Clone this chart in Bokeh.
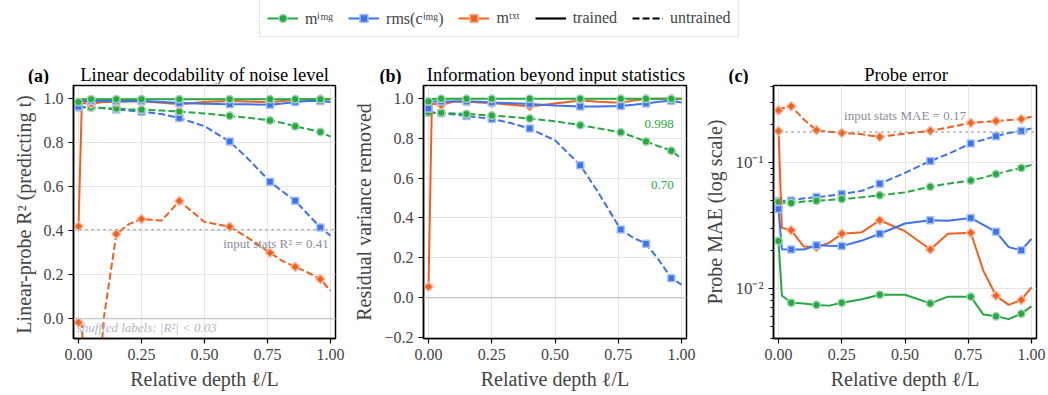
import math
from bokeh.plotting import figure
from bokeh.layouts import column, row
from bokeh.models import (Range1d, FixedTicker, CustomJSTickFormatter, Span, Label,
                          Legend, LegendItem, NumeralTickFormatter)
from bokeh.embed import file_html
from bokeh.resources import INLINE

# ---------------- data ----------------
depth = [0.0, 0.013, 0.05, 0.1, 0.15, 0.2, 0.25, 0.33, 0.4, 0.5, 0.6, 0.67, 0.76, 0.81, 0.86, 0.91, 0.96, 1.0]

# (a) linear-probe R^2
a_img_tr = [0.985, 0.997, 0.998, 0.998, 0.998, 0.998, 0.998, 0.998, 0.998, 0.998, 0.998, 0.998, 0.998, 0.998, 0.998, 0.998, 0.998, 0.998]
a_rms_tr = [0.963, 0.99, 0.99, 0.99, 0.99, 0.99, 0.99, 0.985, 0.98, 0.977, 0.975, 0.975, 0.972, 0.978, 0.985, 0.99, 0.99, 0.985]
a_txt_tr = [0.42, 0.98, 0.977, 0.985, 0.985, 0.987, 0.988, 0.982, 0.975, 0.985, 0.99, 0.987, 0.984, 0.99, 0.995, 0.997, 0.998, 0.998]
a_img_un = [0.96, 0.96, 0.96, 0.958, 0.955, 0.952, 0.95, 0.946, 0.942, 0.933, 0.922, 0.914, 0.901, 0.89, 0.875, 0.862, 0.849, 0.828]
a_rms_un = [0.962, 0.962, 0.962, 0.956, 0.951, 0.946, 0.941, 0.93, 0.912, 0.875, 0.805, 0.73, 0.623, 0.578, 0.536, 0.475, 0.415, 0.377]
a_txt_un = [-0.017, -0.03, -0.8, 0.0, 0.385, 0.43, 0.453, 0.446, 0.535, 0.44, 0.418, 0.37, 0.30, 0.262, 0.236, 0.21, 0.18, 0.127]

# (b) residual variance removed
b_img_tr = [0.985, 0.997, 0.998, 0.998, 0.998, 0.998, 0.998, 0.998, 0.998, 0.998, 0.998, 0.998, 0.998, 0.998, 0.998, 0.998, 0.998, 0.998]
b_rms_tr = [0.95, 0.985, 0.985, 0.985, 0.985, 0.983, 0.98, 0.976, 0.972, 0.965, 0.96, 0.96, 0.962, 0.968, 0.975, 0.983, 0.988, 0.98]
b_txt_tr = [0.055, 0.975, 0.967, 0.985, 0.985, 0.98, 0.977, 0.968, 0.96, 0.975, 0.99, 0.983, 0.978, 0.99, 0.998, 0.998, 0.998, 0.998]
b_img_un = [0.929, 0.929, 0.928, 0.925, 0.922, 0.918, 0.914, 0.907, 0.899, 0.885, 0.866, 0.85, 0.83, 0.808, 0.784, 0.76, 0.738, 0.698]
b_rms_un = [0.928, 0.928, 0.926, 0.92, 0.912, 0.905, 0.897, 0.875, 0.849, 0.79, 0.665, 0.53, 0.342, 0.30, 0.271, 0.19, 0.098, 0.065]

# (c) probe MAE
c_img_tr = [0.0238, 0.0088, 0.0077, 0.0076, 0.0074, 0.0073, 0.0077, 0.0082, 0.0089, 0.0089, 0.0076, 0.0086, 0.0086, 0.0062, 0.0060, 0.0057, 0.0063, 0.0072]
c_rms_tr = [0.0428, 0.0205, 0.0204, 0.0204, 0.022, 0.0218, 0.0217, 0.024, 0.0272, 0.0328, 0.0348, 0.0345, 0.0363, 0.032, 0.0282, 0.0213, 0.0201, 0.0248]
c_txt_tr = [0.178, 0.0303, 0.029, 0.0215, 0.0213, 0.023, 0.0272, 0.028, 0.0348, 0.0285, 0.0204, 0.0272, 0.0277, 0.0138, 0.00875, 0.0074, 0.0081, 0.0102]
c_img_un = [0.0486, 0.048, 0.0478, 0.049, 0.0498, 0.0505, 0.0513, 0.053, 0.0549, 0.058, 0.0643, 0.068, 0.0721, 0.076, 0.081, 0.086, 0.0908, 0.096]
c_rms_un = [0.0492, 0.0495, 0.050, 0.052, 0.0532, 0.0545, 0.0562, 0.0597, 0.0679, 0.083, 0.103, 0.117, 0.142, 0.152, 0.162, 0.172, 0.178, 0.187]
c_txt_un = [0.26, 0.27, 0.28, 0.22, 0.181, 0.176, 0.172, 0.168, 0.160, 0.17, 0.179, 0.19, 0.207, 0.21, 0.214, 0.218, 0.222, 0.231]

x_ticks = [0.0, 0.25, 0.5, 0.75, 1.0]
input_stats_r2 = 0.405
input_stats_mae = 0.175

titles = ["Linear decodability of noise level", "Information beyond input statistics", "Probe error"]
tags = ["(a)", "(b)", "(c)"]

# ---------------- style ----------------
FONT = "Liberation Serif"
GREEN, BLUE, ORANGE = "#27a844", "#3d73eb", "#f0601e"
GREY_TXT = "#8a8c99"


def tint(hexc, f=0.55):
    r, g, b = int(hexc[1:3], 16), int(hexc[3:5], 16), int(hexc[5:7], 16)
    r, g, b = [int(c + (255 - c) * f) for c in (r, g, b)]
    return "#%02x%02x%02x" % (r, g, b)


# marker, size, angle
SER = {"img": (GREEN, "circle", 7.5, 0.0), "rms": (BLUE, "square", 7, 0.0),
       "txt": (ORANGE, "square", 6.5, math.pi / 4)}


def draw(p, ys, key, dashed):
    col, mk, sz, ang = SER[key]
    kw = dict(line_dash="7 3") if dashed else {}
    p.line(depth, ys, line_color=col, line_width=2, **kw)
    p.scatter(depth[::2], ys[::2], marker=mk, size=sz, angle=ang, fill_color=col,
              line_color=tint(col), line_width=1.5)


def panel(ylabel, yr, width, left, right, log=False):
    p = figure(width=width, height=311, x_range=Range1d(-0.02, 1.02), y_range=yr,
               y_axis_type="log" if log else "linear", title=None,
               output_backend="svg", toolbar_location=None,
               min_border_left=left, min_border_right=right,
               min_border_top=1, min_border_bottom=57)
    p.outline_line_color = "black"
    p.outline_line_width = 1.5
    p.outline_line_alpha = 1
    for ax in (p.xaxis[0], p.yaxis[0]):
        ax.axis_label_text_font = FONT
        ax.axis_label_text_font_size = "20px"
        ax.axis_label_text_font_style = "normal"
        ax.major_label_text_font = FONT
        ax.major_label_text_font_size = "16px"
        ax.axis_line_color = "black"
        ax.axis_line_width = 1.5
        ax.major_tick_line_color = "black"
        ax.major_tick_line_width = 1.2
        ax.major_tick_out = 5
        ax.major_tick_in = 0
        ax.minor_tick_out = 3
        ax.minor_tick_in = 0
        ax.minor_tick_line_color = "black"
    p.xaxis.axis_label = "Relative depth \u2113/L"
    p.xaxis.axis_label_standoff = 5
    p.xaxis.ticker = FixedTicker(ticks=x_ticks)
    p.xaxis.formatter = NumeralTickFormatter(format="0.00")
    p.yaxis.axis_label = ylabel
    p.yaxis.axis_label_standoff = 6
    p.grid.grid_line_color = "#e4e4e4"
    p.grid.grid_line_width = 1
    return p


# ---------------- panel (a) ----------------
pa = panel("Linear-probe R\u00b2  (predicting t)", Range1d(-0.09, 1.06), 349, 73, 14)
pa.yaxis.ticker = FixedTicker(ticks=[0.0, 0.2, 0.4, 0.6, 0.8, 1.0])
pa.yaxis.formatter = NumeralTickFormatter(format="0.0")
pa.add_layout(Span(location=0, dimension="width", line_color="#c4c4c4", line_width=1.3))
pa.add_layout(Span(location=input_stats_r2, dimension="width", line_color="#999999",
                   line_width=1.4, line_dash="dotted"))
draw(pa, a_txt_un, "txt", True)
draw(pa, a_rms_un, "rms", True)
draw(pa, a_img_un, "img", True)
draw(pa, a_txt_tr, "txt", False)
draw(pa, a_rms_tr, "rms", False)
draw(pa, a_img_tr, "img", False)
pa.add_layout(Label(x=0.993, y=0.342, text="input stats R\u00b2 = 0.41", text_font=FONT,
                    text_font_size="13px", text_color=GREY_TXT, text_align="right",
                    text_baseline="middle"))
pa.add_layout(Label(x=-0.007, y=-0.041, text="shuffled labels: |R\u00b2| < 0.03", text_font=FONT,
                    text_font_size="13px", text_font_style="italic", text_color="#b4b6c0",
                    text_align="left", text_baseline="middle"))

# ---------------- panel (b) ----------------
pb = panel("Residual variance removed", Range1d(-0.205, 1.065), 350, 74, 13)
pb.yaxis.ticker = FixedTicker(ticks=[-0.2, 0.0, 0.2, 0.4, 0.6, 0.8, 1.0])
pb.yaxis.formatter = CustomJSTickFormatter(code="return tick.toFixed(1).replace('-', '\u2212');")
pb.add_layout(Span(location=0, dimension="width", line_color="#c4c4c4", line_width=1.3))
draw(pb, b_rms_un, "rms", True)
draw(pb, b_img_un, "img", True)
draw(pb, b_txt_tr, "txt", False)
draw(pb, b_rms_tr, "rms", False)
draw(pb, b_img_tr, "img", False)
pb.add_layout(Label(x=0.97, y=0.872, text="0.998", text_font=FONT, text_font_size="13px",
                    text_color=GREEN, text_align="right", text_baseline="middle"))
pb.add_layout(Label(x=0.97, y=0.565, text="0.70", text_font=FONT, text_font_size="13px",
                    text_color=GREEN, text_align="right", text_baseline="middle"))

# ---------------- panel (c) ----------------
pc = panel("Probe MAE (log scale)", Range1d(0.004, 0.41), 349, 74, 12, log=True)
minor = [0.004, 0.005, 0.006, 0.007, 0.008, 0.009, 0.02, 0.03, 0.04, 0.05, 0.06, 0.07,
         0.08, 0.09, 0.2, 0.3, 0.4]
pc.yaxis.ticker = FixedTicker(ticks=[0.01, 0.1], minor_ticks=minor)
pc.ygrid.ticker = FixedTicker(ticks=[0.01, 0.1])
pc.yaxis.formatter = CustomJSTickFormatter(
    code="return tick < 0.05 ? '10\u207b\u00b2' : '10\u207b\u00b9';")
pc.yaxis.major_label_text_font_size = "17px"
pc.add_layout(Span(location=input_stats_mae, dimension="width", line_color="#999999",
                   line_width=1.4, line_dash="dotted"))
draw(pc, c_txt_un, "txt", True)
draw(pc, c_rms_un, "rms", True)
draw(pc, c_img_un, "img", True)
draw(pc, c_txt_tr, "txt", False)
draw(pc, c_rms_tr, "rms", False)
draw(pc, c_img_tr, "img", False)
pc.add_layout(Label(x=0.5, y=0.236, text="input stats MAE = 0.17", text_font=FONT,
                    text_font_size="13px", text_color=GREY_TXT, text_align="center",
                    text_baseline="middle"))

# ---------------- header strip: legend, panel tags and titles ----------------
pl = figure(width=1048, height=84, x_range=Range1d(0, 1048), y_range=Range1d(84, 0),
            title=None, output_backend="svg", toolbar_location=None, min_border=0)
pl.axis.visible = False
pl.grid.visible = False
pl.outline_line_color = None
title_x = [204, 555.5, 905.5]
tag_x = [38, 390, 738]
for i in range(3):
    pl.add_layout(Label(x=title_x[i], y=74.5, text=titles[i], text_font=FONT,
                        text_font_size="18.5px", text_align="center",
                        text_baseline="alphabetic", text_color="black"))
    pl.add_layout(Label(x=tag_x[i], y=75, text=tags[i], text_font=FONT,
                        text_font_size="18px", text_font_style="bold", text_align="center",
                        text_baseline="alphabetic", text_color="black"))
nan = float("nan")
items = []
for key, lab in (("img", "m\u2071\u1d50\u1d4d"), ("rms", "rms(c\u2071\u1d50\u1d4d)"),
                 ("txt", "m\u1d57\u02e3\u1d57")):
    col, mk, sz, ang = SER[key]
    r1 = pl.line([nan], [nan], line_color=col, line_width=2)
    r2 = pl.scatter([nan], [nan], marker=mk, size=sz, angle=ang, fill_color=col,
                    line_color=tint(col), line_width=1.5)
    items.append(LegendItem(label=lab, renderers=[r1, r2]))
r3 = pl.line([nan], [nan], line_color="black", line_width=2.2)
r4 = pl.line([nan], [nan], line_color="black", line_width=2.2, line_dash="7 3")
items.append(LegendItem(label="trained", renderers=[r3]))
items.append(LegendItem(label="untrained", renderers=[r4]))
leg = Legend(items=items, orientation="horizontal", location=(259, 47),
             label_text_font=FONT, label_text_font_size="16px", glyph_width=31,
             label_standoff=7, spacing=15, padding=7, border_line_color="#d0d0d0",
             border_line_width=1, background_fill_alpha=1, margin=0)
pl.add_layout(leg, "center")

layout = column(pl, row(pa, pb, pc))
open("out.html", "w").write(file_html(layout, INLINE))
